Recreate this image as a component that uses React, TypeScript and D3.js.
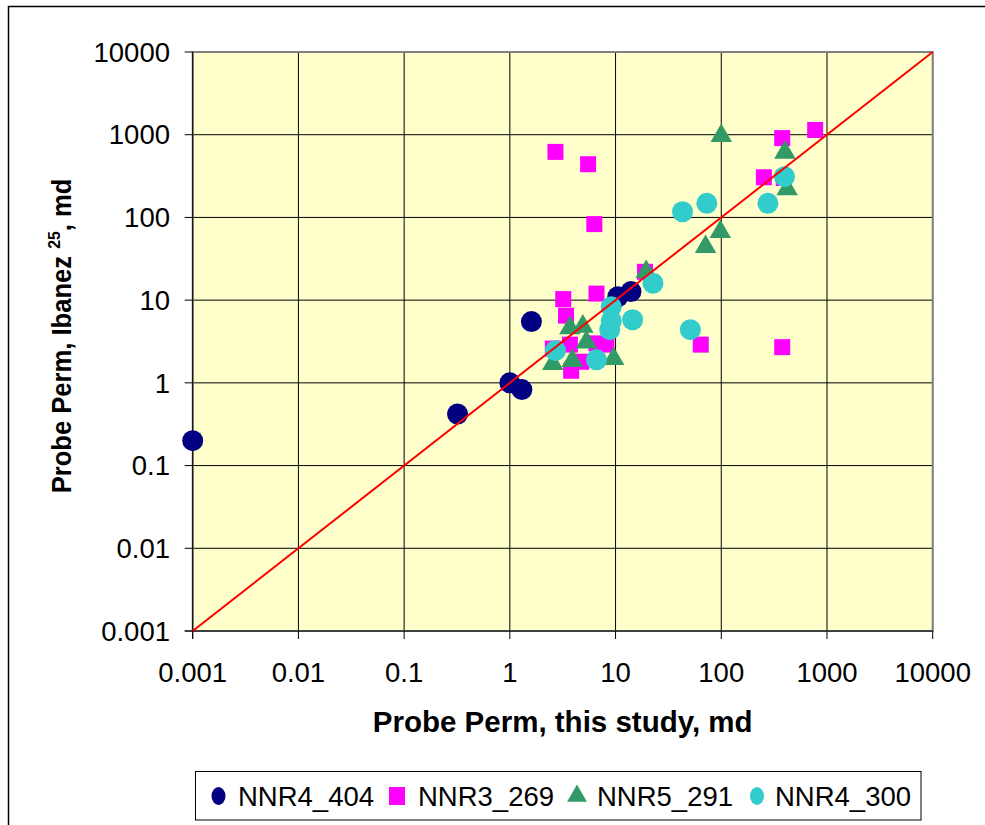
import React from "react";
import * as d3 from "d3";

// Probe permeability comparison (md), log-log
const nnr4_404: [number, number][] = [
  [0.001, 0.2], [0.32, 0.42], [1.0, 1.0], [1.3, 0.83], [1.6, 5.5], [10.5, 11], [14, 12.7],
];
const nnr3_269: [number, number][] = [
  [2.7, 620], [5.5, 440], [6.3, 83], [6.6, 12], [3.2, 10.3], [3.4, 6.5], [19, 22],
  [2.55, 2.6], [3.7, 2.9], [6.6, 3.0], [8.2, 2.9], [3.8, 1.4], [4.75, 1.8],
  [64, 2.9], [377, 2.7], [253, 306], [390, 300], [377, 910], [773, 1140],
];
const nnr5_291: [number, number][] = [
  [3.7, 4.6], [4.9, 4.8], [5.3, 3.1], [2.55, 1.7], [3.9, 1.85], [9.6, 1.95], [19.5, 22],
  [71, 44], [98, 67], [100, 970], [400, 610], [420, 220],
];
const nnr4_300: [number, number][] = [
  [2.7, 2.45], [6.6, 1.9], [9.1, 8.3], [9.1, 5.6], [8.8, 4.4], [14.5, 5.8], [22.6, 16],
  [51, 4.4], [43, 117], [73, 148], [276, 148], [396, 311],
];
const tickValues = [0.001, 0.01, 0.1, 1, 10, 100, 1000, 10000];
const tickLabels = ["0.001", "0.01", "0.1", "1", "10", "100", "1000", "10000"];
const seriesNames = ["NNR4_404", "NNR3_269", "NNR5_291", "NNR4_300"];

const COLORS = ["#000080", "#FF00FF", "#339966", "#33CCCC"];
const FONT = "'Liberation Sans', Arial, sans-serif";

export default function App() {
  const left = 192.7, right = 932.7, top = 52, bottom = 631;
  const x = d3.scaleLog().domain([0.001, 10000]).range([left, right]);
  const y = d3.scaleLog().domain([0.001, 10000]).range([bottom, top]);

  const tri = d3.symbol().type(d3.symbolTriangle).size(200)();
  const triLegend = d3.symbol().type(d3.symbolTriangle).size(170)();

  const circles = (data: [number, number][], color: string, key: string) =>
    data.map((d, i) => (
      <circle key={key + i} cx={x(d[0])} cy={y(d[1])} r={10.5} fill={color} />
    ));

  const legendItems = [
    { mx: 218.5, tx: 238 },
    { mx: 397, tx: 418 },
    { mx: 577, tx: 597 },
    { mx: 757, tx: 775 },
  ];
  const legendY = 796;

  return (
    <svg
      width={985}
      height={825}
      style={{ position: "absolute", left: 0, top: 0, display: "block" }}
    >
      <rect x={0} y={0} width={985} height={825} fill="#ffffff" />
      {/* chart frame */}
      <rect x={8.5} y={6.5} width={1000} height={840} fill="none" stroke="#000" strokeWidth={1.5} />

      {/* plot area */}
      <rect x={left} y={top} width={right - left} height={bottom - top} fill="#FFFFCC" />
      {tickValues.map((t, i) => (
        <g key={"g" + i}>
          <line x1={x(t)} x2={x(t)} y1={top} y2={bottom} stroke="#000" strokeWidth={1} />
          <line x1={left} x2={right} y1={y(t)} y2={y(t)} stroke="#000" strokeWidth={1} />
        </g>
      ))}
      <rect x={left} y={top} width={right - left} height={bottom - top} fill="none" stroke="#808080" strokeWidth={2} />
      <line x1={left} x2={left} y1={top} y2={bottom + 8} stroke="#000" strokeWidth={1} />
      <line x1={left - 8} x2={right} y1={bottom} y2={bottom} stroke="#000" strokeWidth={1} />
      {tickValues.map((t, i) => (
        <g key={"t" + i}>
          <line x1={left - 8} x2={left} y1={y(t)} y2={y(t)} stroke="#000" strokeWidth={1} />
          <line x1={x(t)} x2={x(t)} y1={bottom} y2={bottom + 8} stroke="#000" strokeWidth={1} />
        </g>
      ))}

      {/* tick labels */}
      {tickValues.map((t, i) => (
        <text
          key={"yl" + i}
          x={170}
          y={y(t) + 9.7}
          textAnchor="end"
          fontFamily={FONT}
          fontSize={27.5}
          fill="#000"
        >
          {tickLabels[i]}
        </text>
      ))}
      {tickValues.map((t, i) => (
        <text
          key={"xl" + i}
          x={x(t)}
          y={682}
          textAnchor="middle"
          fontFamily={FONT}
          fontSize={27.5}
          fill="#000"
        >
          {tickLabels[i]}
        </text>
      ))}

      {/* axis titles */}
      <text
        x={(left + right) / 2}
        y={732}
        textAnchor="middle"
        fontFamily={FONT}
        fontWeight="bold"
        fontSize={29.5}
        fill="#000"
      >
        Probe Perm, this study, md
      </text>
      <text
        transform={`translate(71, 336) rotate(-90) scale(0.93, 1)`}
        textAnchor="middle"
        fontFamily={FONT}
        fontWeight="bold"
        fontSize={27.5}
        fill="#000"
      >
        Probe Perm, Ibanez <tspan fontSize={17} dy={-11}>25</tspan>
        <tspan dy={11}>, md</tspan>
      </text>

      {/* data series */}
      <g>
        {circles(nnr4_404, COLORS[0], "a")}
        {nnr3_269.map((d, i) => (
          <rect
            key={"b" + i}
            x={x(d[0]) - 8}
            y={y(d[1]) - 8}
            width={16}
            height={16}
            fill={COLORS[1]}
          />
        ))}
        {nnr5_291.map((d, i) => (
          <path
            key={"c" + i}
            d={tri as string}
            transform={`translate(${x(d[0])},${y(d[1])})`}
            fill={COLORS[2]}
          />
        ))}
        {circles(nnr4_300, COLORS[3], "d")}
      </g>

      {/* one-to-one line */}
      <line
        x1={x(0.001)}
        y1={y(0.001)}
        x2={x(10000)}
        y2={y(10000)}
        stroke="#FF0000"
        strokeWidth={2}
      />

      {/* legend */}
      <rect x={195.5} y={771.5} width={725.5} height={48.5} fill="#fff" stroke="#000" strokeWidth={1} />
      <ellipse cx={legendItems[0].mx} cy={legendY} rx={7} ry={9} fill={COLORS[0]} />
      <rect x={legendItems[1].mx - 8} y={legendY - 9} width={16} height={18} fill={COLORS[1]} />
      <path d={triLegend as string} transform={`translate(${legendItems[2].mx},${legendY})`} fill={COLORS[2]} />
      <ellipse cx={legendItems[3].mx} cy={legendY} rx={7} ry={9} fill={COLORS[3]} />
      {seriesNames.map((n, i) => (
        <text
          key={"ln" + i}
          x={legendItems[i].tx}
          y={legendY + 10}
          fontFamily={FONT}
          fontSize={27.5}
          fill="#000"
        >
          {n}
        </text>
      ))}
    </svg>
  );
}
